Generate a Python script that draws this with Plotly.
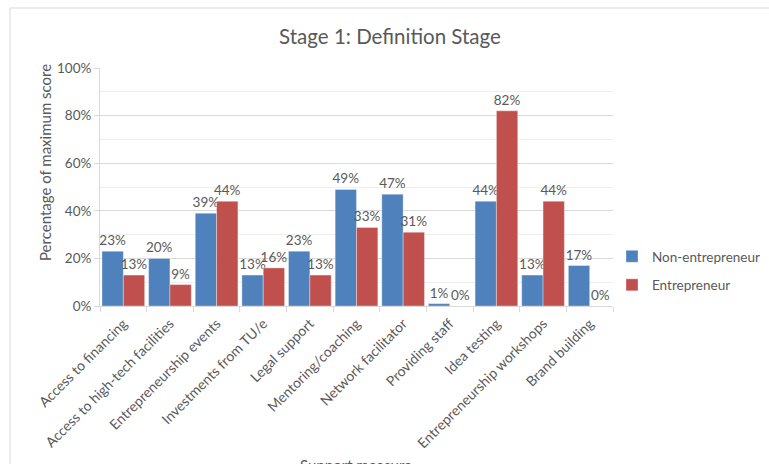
import plotly.graph_objects as go

categories = ["Access to financing", "Access to high-tech facilities", "Entrepreneurship events",
              "Investments from TU/e", "Legal support", "Mentoring/coaching", "Network facilitator",
              "Providing staff", "Idea testing", "Entrepreneurship workshops", "Brand building"]
non_entrepreneur = [23, 20, 39, 13, 23, 49, 47, 1, 44, 13, 17]
entrepreneur = [13, 9, 44, 16, 13, 33, 31, 0, 82, 44, 0]
series_names = ["Non-entrepreneur", "Entrepreneur"]
y_ticks = [0, 20, 40, 60, 80, 100]
y_tick_labels = ["0%", "20%", "40%", "60%", "80%", "100%"]

FONT = "Lato, 'Open Sans', sans-serif"
GREY = "#595959"

W, H = 769, 464
L, R, T, B = 100, 156, 68, 158
pw, ph = W - L - R, H - T - B

def px_x(px):
    return (px - L) / pw

def px_y(py):
    return (H - B - py) / ph

fig = go.Figure()
for name, vals, col, grp in [(series_names[0], non_entrepreneur, "#4F81BD", "a"),
                             (series_names[1], entrepreneur, "#C0504D", "b")]:
    fig.add_trace(go.Bar(
        x=categories, y=vals, name=name, legendgroup=grp,
        marker=dict(color=col, line=dict(color="rgba(255,255,255,0.35)", width=1)),
        text=[f"{v}%" for v in vals], textposition="outside",
        textfont=dict(family=FONT, size=13.5, color=GREY),
        constraintext="none", cliponaxis=False,
    ))

fig.update_layout(
    width=W, height=H, margin=dict(l=L, r=R, t=T, b=B, autoexpand=False),
    paper_bgcolor="white", plot_bgcolor="white",
    barmode="group", bargap=0.085, bargroupgap=0,
    font=dict(family=FONT, color=GREY),
    title=dict(text="Stage 1: Definition Stage", x=390 / W, xanchor="center",
               y=1 - 37 / H, yanchor="middle", font=dict(family=FONT, size=20.5, color=GREY)),
    legend=dict(x=px_x(612), xanchor="left", y=px_y(271), yanchor="middle",
                font=dict(family=FONT, size=13.5, color=GREY), traceorder="grouped",
                tracegroupgap=8, bgcolor="rgba(0,0,0,0)"),
    xaxis=dict(tickangle=-45, tickfont=dict(family=FONT, size=14, color=GREY),
               showline=True, linecolor="#d9d9d9", linewidth=1,
               ticks="outside", tickson="boundaries", ticklen=5, tickcolor="#d9d9d9",
               ticklabelstandoff=3, showgrid=False, fixedrange=True),
    yaxis=dict(range=[0, 100], tickmode="array", tickvals=y_ticks, ticktext=y_tick_labels,
               tickfont=dict(family=FONT, size=13.5, color=GREY),
               showgrid=True, gridcolor="#d9d9d9", gridwidth=1, zeroline=False,
               minor=dict(dtick=10, showgrid=True, gridcolor="#efefef", gridwidth=1),
               showline=True, linecolor="#d9d9d9", ticks="outside", ticklen=5,
               tickcolor="#d9d9d9", fixedrange=True),
    annotations=[
        dict(text="Percentage of maximum score", textangle=-90, x=px_x(45), y=px_y(163),
             xref="paper", yref="paper", showarrow=False, xanchor="center", yanchor="middle",
             font=dict(family=FONT, size=15, color=GREY)),
        dict(text="Support measure", x=px_x(356), y=px_y(454), xref="paper", yref="paper",
             showarrow=False, xanchor="center", yanchor="top",
             font=dict(family=FONT, size=15, color=GREY)),
    ],
    shapes=[
        dict(type="line", xref="paper", yref="paper", x0=px_x(10), x1=px_x(10),
             y0=px_y(8), y1=px_y(470), line=dict(color="#d9d9d9", width=1)),
        dict(type="line", xref="paper", yref="paper", x0=px_x(10), x1=px_x(780),
             y0=px_y(8), y1=px_y(8), line=dict(color="#d9d9d9", width=1)),
    ],
)

fig.write_html("out.html")
